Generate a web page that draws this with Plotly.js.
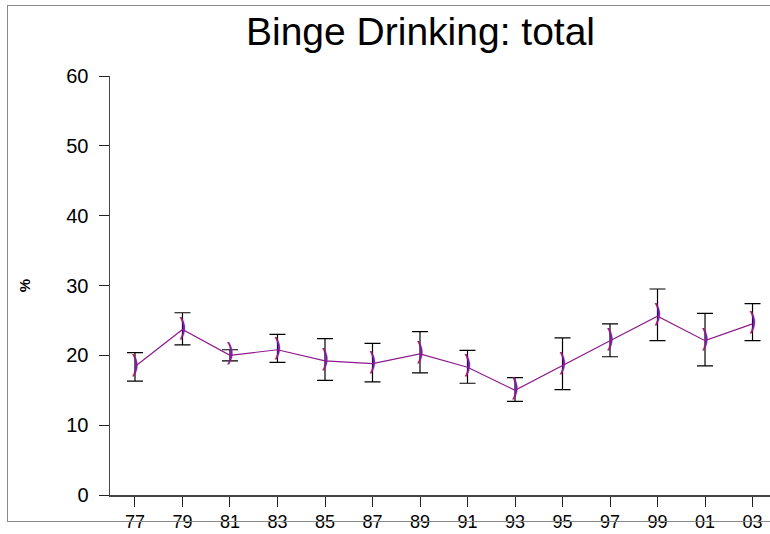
<!DOCTYPE html>
<html>
<head>
<meta charset="utf-8">
<script src="https://cdn.plot.ly/plotly-3.0.1.min.js"></script>
<style>
  html, body { margin:0; padding:0; background:#fff; }
  #wrap { position:relative; width:770px; height:534px; overflow:hidden; }
  #chart { position:absolute; left:0; top:0; width:770px; height:534px; }
  #frame { position:absolute; left:7px; top:5px; width:800px; height:515px; border:1px solid #888; pointer-events:none; }
</style>
</head>
<body>
<div id="wrap">
  <div id="chart"></div>
  <div id="frame"></div>
</div>
<script>
const years = ["77","79","81","83","85","87","89","91","93","95","97","99","01","03"];
const pct   = [18.4, 23.7, 20.0, 20.8, 19.2, 18.8, 20.2, 18.3, 15.0, 18.6, 22.1, 25.6, 22.1, 24.5];
const upper = [20.4, 26.1, 20.8, 23.0, 22.4, 21.7, 23.4, 20.7, 16.8, 22.5, 24.5, 29.5, 26.0, 27.4];
const lower = [16.3, 21.5, 19.2, 19.0, 16.4, 16.2, 17.5, 16.0, 13.4, 15.1, 19.8, 22.1, 18.5, 22.1];

const errPlus  = upper.map((u, i) => u - pct[i]);
const errMinus = lower.map((l, i) => pct[i] - l);
const xIdx = years.map((_, i) => i);
const purple = '#8E1A8E';

const lineTrace = {
  x: xIdx,
  y: pct,
  type: 'scatter',
  mode: 'lines',
  line: { color: purple, width: 1.2 },
  error_y: {
    type: 'data', symmetric: false,
    array: errPlus, arrayminus: errMinus,
    color: '#000', thickness: 1.2, width: 8
  },
  hoverinfo: 'skip'
};

const markTrace = {
  x: xIdx,
  y: pct,
  type: 'scatter',
  mode: 'text',
  text: years.map(() => ')'),
  textposition: 'middle center',
  textfont: { family: 'DejaVu Sans, sans-serif', size: 24, color: purple },
  hoverinfo: 'skip',
  cliponaxis: false
};

const layout = {
  width: 770, height: 534,
  margin: { l: 110, r: 0, t: 76, b: 39, pad: 0 },
  paper_bgcolor: '#fff', plot_bgcolor: '#fff',
  showlegend: false,
  font: { family: 'Liberation Sans, Arial, sans-serif', color: '#000' },
  title: {
    text: 'Binge Drinking: total',
    font: { size: 39, color: '#000', family: 'Liberation Sans, Arial, sans-serif' },
    xref: 'paper', x: 0.4705, xanchor: 'center',
    yref: 'container', y: 0.942, yanchor: 'middle'
  },
  xaxis: {
    range: [-0.526, 13.368],
    tickmode: 'array', tickvals: xIdx, ticktext: years,
    showgrid: false, zeroline: false,
    showline: true, linecolor: '#444', linewidth: 1.5,
    ticks: 'outside', ticklen: 10, tickcolor: '#222', tickwidth: 1,
    tickfont: { size: 18, color: '#000' },
    ticklabelstandoff: 0,
    fixedrange: true
  },
  yaxis: {
    range: [0, 60],
    tickvals: [0, 10, 20, 30, 40, 50, 60],
    showgrid: false, zeroline: false,
    showline: true, linecolor: '#444', linewidth: 1.5,
    ticks: 'outside', ticklen: 10, tickcolor: '#222', tickwidth: 1,
    tickfont: { size: 20, color: '#000' },
    ticklabelstandoff: 6,
    title: { text: '<b>%</b>', font: { size: 15, color: '#000' }, standoff: 32 },
    fixedrange: true
  }
};

Plotly.newPlot('chart', [lineTrace, markTrace], layout, { displayModeBar: false, staticPlot: true });
</script>
</body>
</html>
